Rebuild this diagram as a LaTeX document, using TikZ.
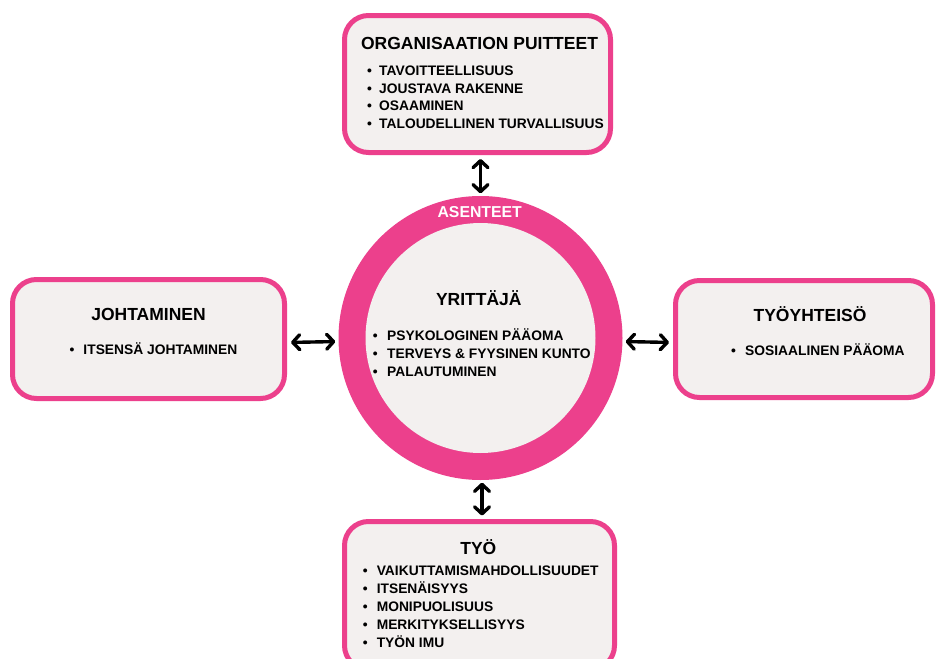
\documentclass[tikz,border=0pt]{standalone}
\usepackage{fontspec}
\setmainfont{Liberation Sans}
\usetikzlibrary{arrows.meta}
\definecolor{pinkc}{RGB}{236,64,140}
\definecolor{boxfill}{RGB}{243,240,239}
\newcommand\bl[1]{\makebox[#1][l]{•}}
\begin{document}
\begin{tikzpicture}[x=1pt,y=-1pt,
  panel/.style={draw=pinkc, line width=5pt, fill=boxfill, rounded corners=24pt, inner sep=0pt},
  ttl/.style={font=\fontsize{17.5}{20}\selectfont\bfseries, inner sep=0pt, anchor=base},
  itm/.style={font=\fontsize{13.8}{16}\selectfont\bfseries, inner sep=0pt, anchor=base west},
  link/.style={{Straight Barb[length=7pt,width=15pt,line join=round,line cap=round]}-{Straight Barb[length=7pt,width=15pt,line join=round,line cap=round]}, line width=3.4pt}]
\useasboundingbox (0,0) rectangle (938,659);
\clip (0,0) rectangle (938,659);
\fill[white] (0,0) rectangle (938,659);
% panels
\node[panel, minimum width=266pt, minimum height=137pt] (top) at (477.5,84) {};
\node[panel, minimum width=272pt, minimum height=119pt] (left) at (148.5,339) {};
\node[panel, minimum width=257pt, minimum height=117pt] (right) at (804,339) {};
\node[panel, minimum width=270pt, minimum height=148pt] (bottom) at (479.5,595.5) {};
% circle
\node[circle, fill=pinkc, minimum size=284pt, inner sep=0pt] (ring) at (480.5,338) {};
\node[circle, fill=boxfill, minimum size=230pt, inner sep=0pt] (core) at (480.5,338) {};
% connectors
\draw[link, shorten <=4pt, shorten >=2.5pt] (ring.north |- top.south) -- (ring.north);
\draw[link, shorten <=4pt, shorten >=3pt] ([yshift=-3.5pt]left.east) -- ([yshift=-3.5pt]ring.west);
\draw[link, shorten <=3pt, shorten >=4pt] ([yshift=-3.5pt]ring.east) -- ([yshift=-3.5pt]right.west);
\draw[link, shorten <=2.5pt, shorten >=3.5pt] ([xshift=1.5pt]ring.south) -- ([xshift=1.5pt]ring.south |- bottom.north);
% top texts
\node[ttl] (topt) at (479.5,49.6) {ORGANISAATION PUITTEET};
\node[itm] (topi1) at (367,75.8) {\bl{12pt}TAVOITTEELLISUUS};
\node[itm] (topi2) at (367,93.1) {\bl{12pt}JOUSTAVA RAKENNE};
\node[itm] (topi3) at (367,110.5) {\bl{12pt}OSAAMINEN};
\node[itm] (topi4) at (367,128.1) {\bl{12pt}TALOUDELLINEN TURVALLISUUS};
% circle texts
\node[ttl, font=\fontsize{15.8}{18}\selectfont\bfseries, text=white] (asen) at (479.7,217.7) {ASENTEET};
\node[ttl] (yrit) at (478.8,305.3) {YRITTÄJÄ};
\node[itm] (ci1) at (372.6,340.5) {\bl{14.4pt}PSYKOLOGINEN PÄÄOMA};
\node[itm] (ci2) at (372.6,358.1) {\bl{14.4pt}TERVEYS \& FYYSINEN KUNTO};
\node[itm] (ci3) at (372.6,376.5) {\bl{14.4pt}PALAUTUMINEN};
% left texts
\node[ttl] (leftt) at (148.5,320.6) {JOHTAMINEN};
\node[itm] (lefti1) at (69.3,354.8) {\bl{14pt}ITSENSÄ JOHTAMINEN};
% right texts
\node[ttl] (rightt) at (810,321.3) {TYÖYHTEISÖ};
\node[itm] (righti1) at (731,355.8) {\bl{14pt}SOSIAALINEN PÄÄOMA};
% bottom texts
\node[ttl] (bott) at (478.3,554.6) {TYÖ};
\node[itm] (boti1) at (362.6,575.5) {\bl{14pt}VAIKUTTAMISMAHDOLLISUUDET};
\node[itm] (boti2) at (362.6,593.8) {\bl{14pt}ITSENÄISYYS};
\node[itm] (boti3) at (362.6,611.8) {\bl{14pt}MONIPUOLISUUS};
\node[itm] (boti4) at (362.6,629.1) {\bl{14pt}MERKITYKSELLISYYS};
\node[itm] (boti5) at (362.6,647.1) {\bl{14pt}TYÖN IMU};
\end{tikzpicture}
\end{document}
